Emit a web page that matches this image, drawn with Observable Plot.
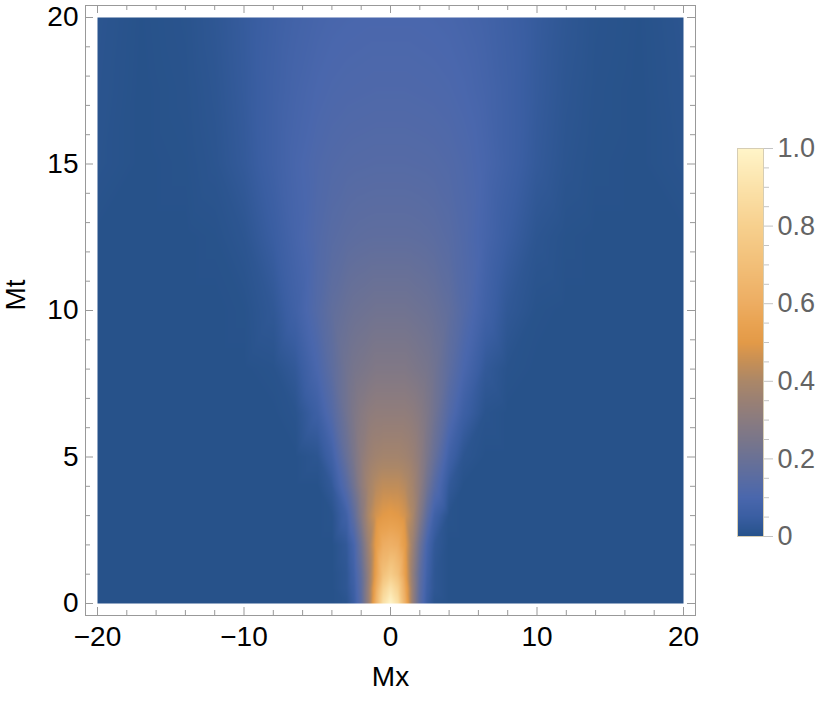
<!DOCTYPE html>
<html>
<head>
<meta charset="utf-8">
<script src="https://cdn.jsdelivr.net/npm/d3@7"></script>
<script src="https://cdn.jsdelivr.net/npm/@observablehq/plot@0.6"></script>
<style>
html, body { margin: 0; padding: 0; background: #fff; }
#chart { position: relative; width: 817px; height: 701px; }
#main { position: absolute; left: 0; top: 0; }
#legend { position: absolute; left: 737px; top: 140px; }
</style>
</head>
<body>
<div id="chart"><div id="main"></div><div id="legend"></div></div>
<script>
// Sample positions (Mx columns, Mt rows) and density values
const xs = [-20,-17,-14,-12,-10,-8,-6.5,-5,-4,-3,-2.5,-2,-1.5,-1,-0.5,0,0.5,1,1.5,2,2.5,3,4,5,6.5,8,10,12,14,17,20];
const ts = [0,0.5,1,2,3,4,5,6.5,8,10,12.5,15,17.5,20];
const density = [
  [0,0,0,0,0,0,0,0,0,0.01,0.05,0.15,0.34,0.62,0.89,1.00,0.89,0.62,0.34,0.15,0.05,0.01,0,0,0,0,0,0,0,0,0],
  [0,0,0,0,0,0,0,0,0,0.02,0.06,0.16,0.34,0.58,0.81,0.90,0.81,0.58,0.34,0.16,0.06,0.02,0,0,0,0,0,0,0,0,0],
  [0,0,0,0,0,0,0,0,0,0.02,0.07,0.17,0.33,0.53,0.71,0.78,0.71,0.53,0.33,0.17,0.07,0.02,0,0,0,0,0,0,0,0,0],
  [0,0,0,0,0,0,0,0,0,0.03,0.09,0.21,0.36,0.51,0.60,0.62,0.60,0.51,0.36,0.21,0.09,0.03,0,0,0,0,0,0,0,0,0],
  [0,0,0,0,0,0,0,0,0.005,0.07,0.16,0.28,0.40,0.47,0.50,0.51,0.50,0.47,0.40,0.28,0.16,0.07,0.005,0,0,0,0,0,0,0,0],
  [0,0,0,0,0,0,0,0,0.03,0.14,0.22,0.31,0.38,0.42,0.44,0.44,0.44,0.42,0.38,0.31,0.22,0.14,0.03,0,0,0,0,0,0,0,0],
  [0,0,0,0,0,0,0,0.014,0.07,0.19,0.25,0.31,0.35,0.37,0.38,0.38,0.38,0.37,0.35,0.31,0.25,0.19,0.07,0.014,0,0,0,0,0,0,0],
  [0,0,0,0,0,0,0.008,0.06,0.13,0.22,0.26,0.29,0.31,0.32,0.32,0.32,0.32,0.32,0.31,0.29,0.26,0.22,0.13,0.06,0.008,0,0,0,0,0,0],
  [0,0,0,0,0,0.005,0.03,0.10,0.16,0.22,0.24,0.25,0.26,0.27,0.27,0.27,0.27,0.27,0.26,0.25,0.24,0.22,0.16,0.10,0.03,0.005,0,0,0,0,0],
  [0,0,0,0,0.003,0.025,0.07,0.13,0.17,0.195,0.205,0.21,0.215,0.22,0.22,0.22,0.22,0.22,0.215,0.21,0.205,0.195,0.17,0.13,0.07,0.025,0.003,0,0,0,0],
  [0,0,0,0.003,0.015,0.05,0.087,0.122,0.142,0.155,0.159,0.162,0.164,0.165,0.165,0.165,0.165,0.165,0.164,0.162,0.159,0.155,0.142,0.122,0.087,0.05,0.015,0.003,0,0,0],
  [0.008,0,0.003,0.012,0.033,0.066,0.093,0.114,0.124,0.13,0.132,0.133,0.134,0.135,0.135,0.135,0.135,0.135,0.134,0.133,0.132,0.13,0.124,0.114,0.093,0.066,0.033,0.012,0.003,0,0.008],
  [0.01,0,0.005,0.016,0.037,0.065,0.085,0.1,0.107,0.111,0.112,0.113,0.114,0.115,0.115,0.115,0.115,0.115,0.114,0.113,0.112,0.111,0.107,0.1,0.085,0.065,0.037,0.016,0.005,0,0.01],
  [0.012,0.001,0.007,0.02,0.039,0.061,0.077,0.088,0.094,0.097,0.098,0.099,0.1,0.1,0.1,0.1,0.1,0.1,0.1,0.099,0.098,0.097,0.094,0.088,0.077,0.061,0.039,0.02,0.007,0.001,0.012]
];

// Tick values
const xMajor = [-20,-10,0,10,20];
const xMinor = [-18,-16,-14,-12,-8,-6,-4,-2,2,4,6,8,12,14,16,18];
const yMajor = [0,5,10,15,20];
const yMinor = [1,2,3,4,6,7,8,9,11,12,13,14,16,17,18,19];
const legendMajor = [0,0.2,0.4,0.6,0.8,1];
const legendMinor = [0.05,0.1,0.15,0.25,0.3,0.35,0.45,0.5,0.55,0.65,0.7,0.75,0.85,0.9,0.95];

// Colour gradient stops
const colorStops = [0,0.05,0.1,0.15,0.2,0.25,0.3,0.35,0.4,0.45,0.5,0.55,0.6,0.7,0.8,0.9,1];
const colorRange = ["#27528a","#3a5ea2","#4a67ad","#5a6ca2","#6a7196","#7a768a","#8a7b80","#9a8074","#ab8768","#c68f56","#e39a48","#e9a352","#edad62","#f2bf78","#f7d08e","#fbe2aa","#fff5c9"];

const points = ts.flatMap((t, i) => xs.map((x, j) => ({x, t, v: density[i][j]})));

const color = {type: "linear", domain: colorStops, range: colorRange, interpolate: "rgb", clamp: true};
const font = "'Liberation Sans', Arial, Helvetica, sans-serif";
const tickColor = "#999";
const minus = d => d < 0 ? "\u2212" + (-d) : String(d);

const main = Plot.plot({
  width: 817, height: 701,
  marginLeft: 85, marginRight: 122, marginTop: 5, marginBottom: 86,
  x: {domain: [-20, 20], inset: 12},
  y: {domain: [0, 20], inset: 12},
  color,
  style: {fontFamily: font, fontSize: "28px", background: "white", color: "black"},
  marks: [
    Plot.raster(points, {x: "x", y: "t", fill: "v", x1: -20, x2: 20, y1: 0, y2: 20, interpolate: "barycentric"}),
    Plot.frame({stroke: tickColor}),
    Plot.tickX(xMajor, {x: d => d, insetTop: 602, stroke: tickColor}),
    Plot.tickX(xMajor, {x: d => d, insetBottom: 602, stroke: tickColor}),
    Plot.tickX(xMinor, {x: d => d, insetTop: 605, stroke: tickColor}),
    Plot.tickX(xMinor, {x: d => d, insetBottom: 605, stroke: tickColor}),
    Plot.tickY(yMajor, {y: d => d, insetRight: 602, stroke: tickColor}),
    Plot.tickY(yMajor, {y: d => d, insetLeft: 602, stroke: tickColor}),
    Plot.tickY(yMinor, {y: d => d, insetRight: 605, stroke: tickColor}),
    Plot.tickY(yMinor, {y: d => d, insetLeft: 605, stroke: tickColor}),
    Plot.axisX({ticks: xMajor, tickSize: 0, tickPadding: 11, tickFormat: minus, fontSize: 28, fill: "black", label: null}),
    Plot.axisY({ticks: yMajor, tickSize: 0, tickPadding: 7, tickFormat: minus, fontSize: 28, fill: "black", label: null}),
    Plot.text(["Mx"], {frameAnchor: "bottom", dy: 70, fontSize: 28, fill: "black"}),
    Plot.text(["Mt"], {frameAnchor: "left", dx: -69, rotate: -90, fontSize: 28, fill: "black"})
  ]
});
document.getElementById("main").append(main);

const legend = Plot.plot({
  width: 80, height: 404,
  marginLeft: 0, marginRight: 54, marginTop: 8, marginBottom: 8,
  x: {domain: [0, 1], axis: null},
  y: {domain: [0, 1]},
  color,
  style: {fontFamily: font, fontSize: "27px", background: "transparent", overflow: "visible"},
  marks: [
    Plot.raster({x1: 0, x2: 1, y1: 0, y2: 1, fill: (x, y) => y}),
    Plot.frame({stroke: "#d6cdb4"}),
    Plot.axisY({anchor: "right", ticks: legendMinor, tickSize: 5, tickFormat: () => "", stroke: "#c4c4c4", label: null}),
    Plot.axisY({anchor: "right", ticks: legendMajor, tickSize: 9, tickPadding: 5, tickFormat: d => d === 0 ? "0" : d.toFixed(1), fill: "#646464", stroke: "#c4c4c4", fontSize: 27, label: null})
  ]
});
document.getElementById("legend").append(legend);
</script>
</body>
</html>
